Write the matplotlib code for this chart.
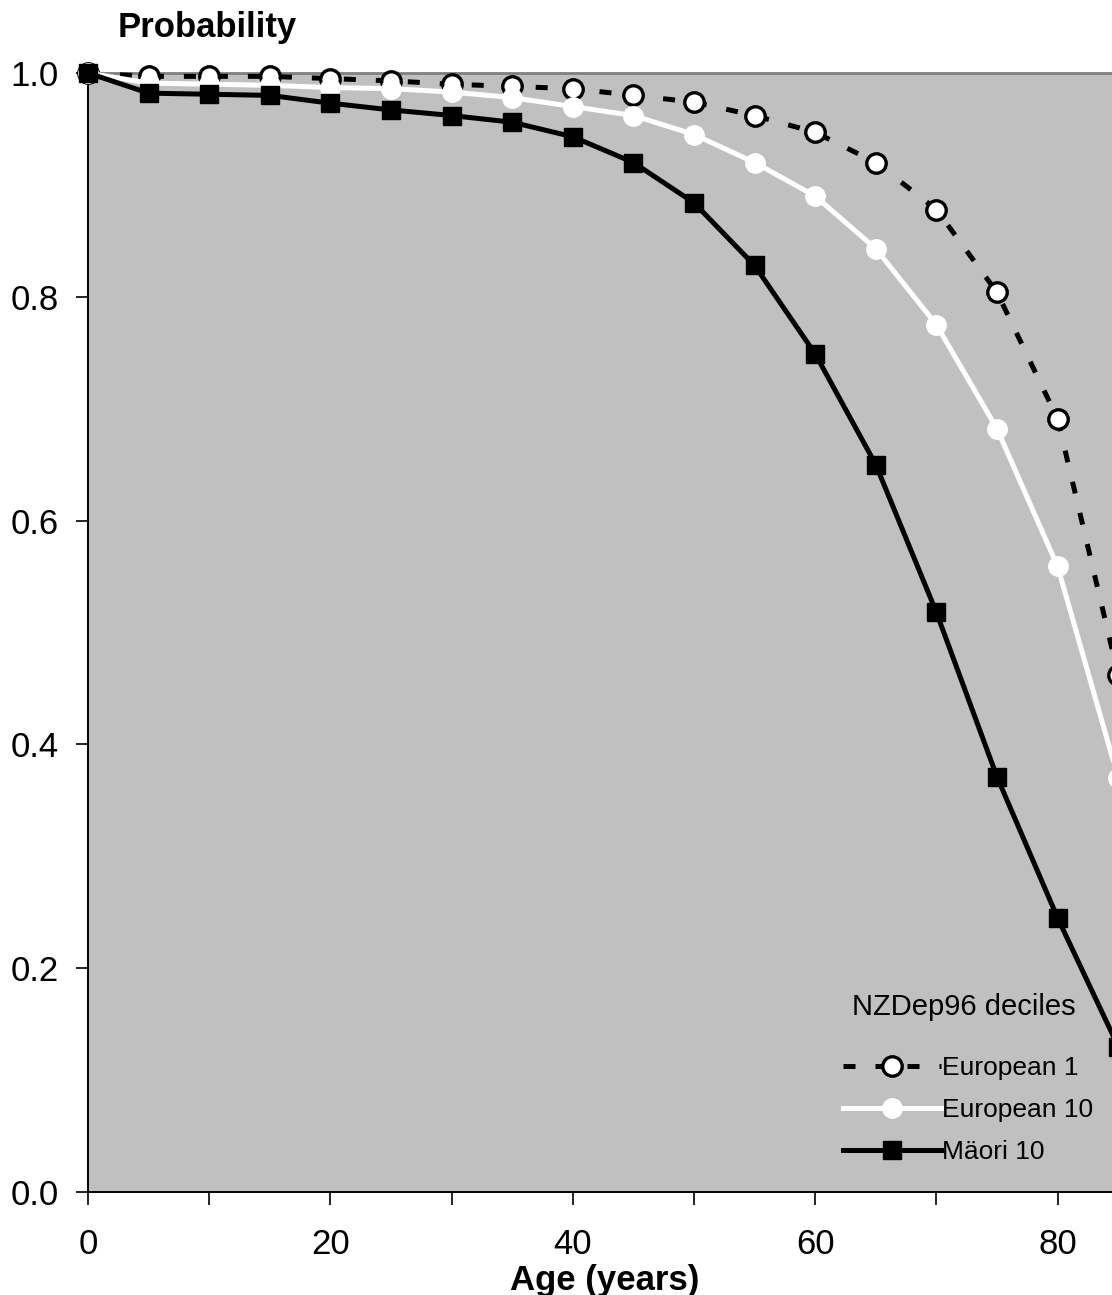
import numpy as np
import matplotlib
matplotlib.use("Agg")
import matplotlib.pyplot as plt

plt.rcParams["font.family"] = ["Liberation Sans", "DejaVu Sans"]

# Survival probability by age
age = [0, 5, 10, 15, 20, 25, 30, 35, 40, 45, 50, 55, 60, 65, 70, 75, 80, 85]
european_1 = [1.000, 0.997, 0.997, 0.997, 0.995, 0.993, 0.990, 0.988, 0.986,
              0.980, 0.974, 0.962, 0.947, 0.920, 0.878, 0.804, 0.691, 0.462]
european_10 = [1.000, 0.991, 0.990, 0.989, 0.987, 0.986, 0.983, 0.978, 0.970,
               0.962, 0.945, 0.920, 0.890, 0.843, 0.775, 0.682, 0.559, 0.370]
maori_10 = [1.000, 0.982, 0.981, 0.980, 0.973, 0.967, 0.962, 0.956, 0.943,
            0.920, 0.884, 0.828, 0.749, 0.650, 0.518, 0.371, 0.245, 0.130]

x_major = [0, 20, 40, 60, 80]
x_minor = [10, 30, 50, 70]
y_ticks = [0.0, 0.2, 0.4, 0.6, 0.8, 1.0]

W, H = 1112, 1295
fig = plt.figure(figsize=(W / 100, H / 100), dpi=100)
ax = fig.add_axes([88 / W, 103 / H, (W - 88) / W, 1119 / H])
ax.set_facecolor("#c0c0c0")

# draw order: European 1 underneath, Maori on top
ax.plot(age, european_1, color="black", lw=3.6, linestyle=(0, (2.4, 4.0)),
        marker="o", markersize=14, markerfacecolor="white",
        markeredgecolor="black", markeredgewidth=2.4,
        label="European 1", clip_on=False, zorder=3)
ax.plot(age, european_10, color="white", lw=3.6, marker="o", markersize=14,
        markerfacecolor="white", markeredgecolor="white",
        label="European 10", clip_on=False, zorder=4)
ax.plot(age, maori_10, color="black", lw=3.6, marker="s", markersize=12.5,
        markerfacecolor="black", markeredgecolor="black",
        label="Mäori 10", clip_on=False, zorder=5)

ax.set_xlim(0, (W - 88) / 12.12)
ax.set_ylim(0, 1.0)

ax.set_xticks(x_major)
ax.set_xticks(x_minor, minor=True)
ax.set_yticks(y_ticks)
ax.set_yticklabels([f"{v:.1f}" for v in y_ticks])
ax.tick_params(axis="both", which="both", direction="out", length=9,
               width=1.2, color="black", labelsize=25)
ax.tick_params(axis="x", pad=17)
ax.tick_params(axis="y", pad=12)

for side in ["left", "bottom"]:
    ax.spines[side].set_color("black")
    ax.spines[side].set_linewidth(1.4)
ax.spines["top"].set_color("#808080")
ax.spines["top"].set_linewidth(2)
ax.spines["right"].set_visible(False)

fig.text(605 / W, 1 - 1290 / H, "Age (years)", fontsize=25, fontweight="bold",
         ha="center", va="baseline")
fig.text(207 / W, 1 - 37 / H, "Probability", fontsize=25, fontweight="bold",
         ha="center", va="baseline")

ax.text((964 - 88) / (W - 88), (1192 - 1007) / 1119, "NZDep96 deciles",
        transform=ax.transAxes, ha="center", va="center", fontsize=21)
leg = ax.legend(loc="center left", bbox_to_anchor=((843 - 88) / (W - 88), 0.073),
                frameon=False, fontsize=19, borderpad=0, borderaxespad=0,
                handlelength=3.7, handletextpad=0.05, labelspacing=0.68,
                numpoints=1)

fig.savefig("out.png", dpi=100)
